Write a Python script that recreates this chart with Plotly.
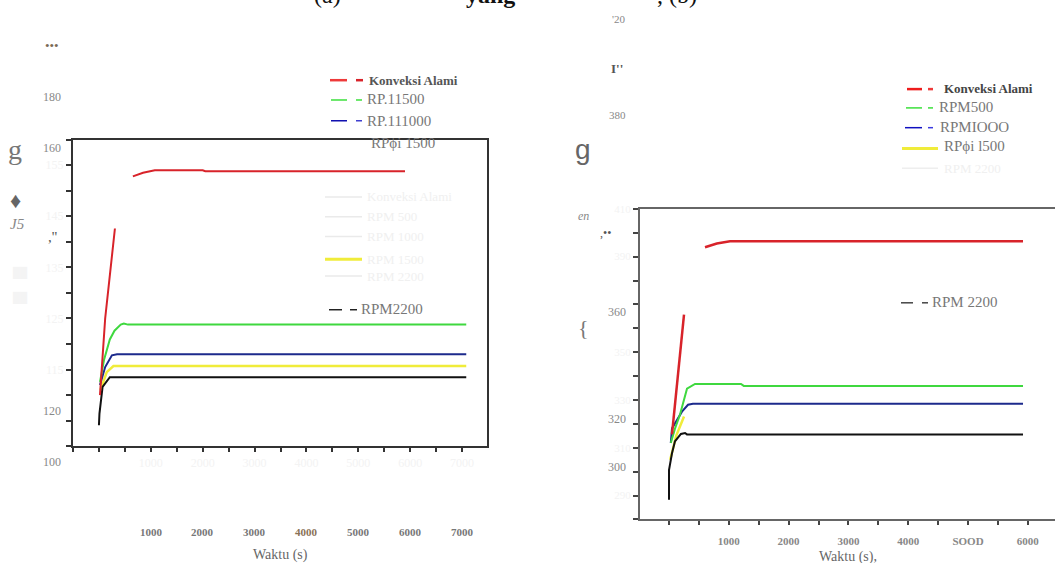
import plotly.graph_objects as go

W, H = 1055, 563


def px(x):
    return x / W


def py(y):
    return 1 - y / H


# ---------------- data (left panel) ----------------
L_red_t = [20, 120, 308, None, 654, 850, 1077, 2000, 2050, 5900]
L_red_T = [110, 125, 142.6, None, 152.8, 153.5, 154.0, 154.0, 153.8, 153.8]
L_green_t = [20, 100, 210, 300, 420, 480, 560, 7080]
L_green_T = [112.6, 117.0, 120.9, 122.6, 123.8, 124.0, 123.8, 123.8]
L_blue_t = [20, 120, 250, 350, 7080]
L_blue_T = [112.0, 115.5, 117.8, 118.0, 118.0]
L_yellow_t = [30, 150, 280, 7080]
L_yellow_T = [111.0, 114.5, 115.7, 115.7]
L_black_t = [0, 10, 70, 210, 7080]
L_black_T = [104.1, 106.4, 111.6, 113.5, 113.5]

# ---------------- data (right panel) ----------------
R_red_t = [50, 251, None, 602, 800, 1020, 5920]
R_red_T = [315.6, 365.7, None, 393.9, 395.5, 396.4, 396.4]
R_green_t = [30, 100, 184, 301, 435, 1204, 1250, 5920]
R_green_T = [312.0, 318.0, 323.9, 334.7, 336.7, 336.7, 335.9, 335.9]
R_blue_t = [30, 50, 217, 318, 400, 5920]
R_blue_T = [312.0, 318.1, 325.1, 328.0, 328.4, 328.4]
R_yellow_t = [20, 120, 251]
R_yellow_T = [305.0, 315.0, 323.1]
R_black_t = [0, 0, 50, 100, 200, 268, 300, 5920]
R_black_T = [288.3, 300.7, 307.7, 312.7, 315.8, 316.2, 315.6, 315.6]

x_ticks_L = list(range(-500, 7001, 500))
x_ticks_R = list(range(-500, 6001, 500))
y_ticks_L = list(range(100, 161, 5))
y_ticks_R = list(range(280, 411, 10))
faint_y_L = [115, 125, 135, 145, 155]
faint_y_R = [410, 390, 350, 330, 310, 290]
x_labels_dark = ["1000", "2000", "3000", "4000", "5000", "6000", "7000"]
x_labels_R = {1000: "1000", 2000: "2000", 3000: "3000", 4000: "4000", 5000: "SOOD", 6000: "6000"}

RED = "#d8232a"
GREEN = "#3fd83f"
BLUE = "#1c2a8c"
YELLOW = "#f0ec3a"
BLACK = "#111111"
FAINT = "#f3f3f3"
SERIF = "Liberation Serif"

fig = go.Figure()

for t, v, c, w in [
    (L_yellow_t, L_yellow_T, YELLOW, 2.5),
    (L_black_t, L_black_T, BLACK, 2),
    (L_blue_t, L_blue_T, BLUE, 2),
    (L_green_t, L_green_T, GREEN, 2),
    (L_red_t, L_red_T, RED, 2),
]:
    fig.add_trace(go.Scatter(x=t, y=v, mode="lines", line=dict(color=c, width=w),
                             xaxis="x", yaxis="y", showlegend=False))

for t, v, c, w in [
    (R_yellow_t, R_yellow_T, YELLOW, 2.5),
    (R_black_t, R_black_T, BLACK, 2),
    (R_blue_t, R_blue_T, BLUE, 2),
    (R_green_t, R_green_T, GREEN, 2),
    (R_red_t, R_red_T, RED, 2.5),
]:
    fig.add_trace(go.Scatter(x=t, y=v, mode="lines", line=dict(color=c, width=w),
                             xaxis="x2", yaxis="y2", showlegend=False))

# axis tick texts
xt_L = [str(v) if v > 0 and v % 1000 == 0 else "" for v in x_ticks_L]
yt_L = [str(v) if v in faint_y_L else "" for v in y_ticks_L]
xt_R = [x_labels_R.get(v, "") for v in x_ticks_R]
yt_R = [str(v) if v in faint_y_R else "" for v in y_ticks_R]

fig.update_layout(
    width=W, height=H,
    margin=dict(l=0, r=0, t=0, b=0),
    paper_bgcolor="white", plot_bgcolor="white",
    font=dict(family=SERIF, color="#777"),
    xaxis=dict(domain=[px(73), px(487)], range=[-500, 7480], showgrid=False, zeroline=False,
               showline=True, linecolor="#333", linewidth=2, mirror=True,
               ticks="outside", ticklen=4, tickcolor="#333", tickwidth=1.5,
               tickvals=x_ticks_L, ticktext=xt_L,
               tickfont=dict(family=SERIF, size=12, color=FAINT), anchor="y"),
    yaxis=dict(domain=[py(445), py(135)], range=[100, 160], showgrid=False, zeroline=False,
               showline=True, linecolor="#333", linewidth=2, mirror=True,
               ticks="outside", ticklen=5, tickcolor="#333", tickwidth=1.5,
               tickvals=y_ticks_L, ticktext=yt_L,
               tickfont=dict(family=SERIF, size=12, color=FAINT), anchor="x"),
    xaxis2=dict(domain=[px(640), 1.0], range=[-485, 6455], showgrid=False, zeroline=False,
                showline=True, linecolor="#666", linewidth=2, mirror=True,
                ticks="outside", ticklen=4, tickcolor="#444", tickwidth=1.5,
                tickvals=x_ticks_R, ticktext=xt_R, ticklabelstandoff=6,
                tickfont=dict(family=SERIF, size=11, color="#888", weight="bold"), anchor="y2"),
    yaxis2=dict(domain=[py(519), py(205)], range=[280, 410], showgrid=False, zeroline=False,
                showline=True, linecolor="#666", linewidth=2, mirror=False,
                ticks="outside", ticklen=5, tickcolor="#444", tickwidth=1.5,
                tickvals=y_ticks_R, ticktext=yt_R,
                tickfont=dict(family=SERIF, size=11, color=FAINT), anchor="x2"),
)

ann = []


def text(x, y, s, size=13, color="#777", family=SERIF, xanchor="center", **kw):
    ann.append(dict(x=px(x), y=py(y), xref="paper", yref="paper", text=s, showarrow=False,
                    xanchor=xanchor, yanchor="middle",
                    font=dict(size=size, color=color, family=family, **kw)))


shapes = []


def seg(x0, x1, y, color, width=1.5):
    shapes.append(dict(type="line", xref="paper", yref="paper", x0=px(x0), x1=px(x1),
                       y0=py(y), y1=py(y), line=dict(color=color, width=width)))


# cut-off caption at the top (only its lower edge shows)
text(327, -11, "(a)", size=24, color="#111")
text(490, -11, "yang", size=24, color="#111", weight="bold")
text(677, -11, ", (b)", size=24, color="#111")

# left panel stray labels
text(52, 40, "•••", size=13, color="#7a6a55")
text(52, 92, "180", size=12, color="#888")
text(52, 144, "160", size=12, color="#888")
text(52, 409, "120", size=12, color="#888")
text(52, 461, "100", size=12, color="#888")
text(15, 145, "g", size=28, color="#777")
text(15, 197, "♦", size=22, color="#666")
text(17, 220, "J5", size=15, color="#888", style="italic")
text(52, 233, ",''", size=15, color="#555")
for yy in (270, 295):
    text(20, yy, "██", size=10, color="#f4f4f4")

# left dark x labels
for i, s in enumerate(x_labels_dark):
    text(151 + i * 51.86, 532, s, size=11, color="#8a7256" if s == "4000" else "#777",
         weight="bold")
text(280, 555, "Waktu (s)", size=14, color="#666")

# left legend
seg(330, 347, 75, "#ee3a3a", 2.5); seg(356, 363, 75, RED, 2.5)
text(367, 75, "Konveksi Alami", size=13, color="#555", xanchor="left", weight="bold")
seg(331, 347, 95, "#3ce03c"); seg(356, 362, 95, "#3ce03c")
text(365, 94, "RP.11500", size=15, color="#777", xanchor="left")
seg(331, 347, 116, "#1010b0"); seg(356, 362, 116, "#4040d0")
text(365, 116, "RP.111000", size=15, color="#777", xanchor="left")
text(369, 138, "RPϕi 1500", size=15, color="#777", xanchor="left")
for yy, nm in [(193, "Konveksi Alami"), (213, "RPM 500"), (233, "RPM 1000"),
               (256, "RPM 1500"), (273, "RPM 2200")]:
    if nm == "RPM 1500":
        seg(325, 362, yy, YELLOW, 3)
    else:
        seg(325, 362, yy, "#eaeaea", 1.5)
    text(365, yy, nm, size=13, color="#f0f0f0", xanchor="left")
seg(329, 342, 307, "#222", 1.5); seg(350, 357, 307, "#222", 1.5)
text(359, 306, "RPM2200", size=15, color="#777", xanchor="left")

# right panel stray labels
text(618, 13, "'20", size=11, color="#888")
text(617, 63, "I''", size=13, color="#555", weight="bold")
text(617, 110, "380", size=11, color="#888")
text(583, 145, "g", size=28, color="#666", family="Liberation Sans")
text(583, 212, "en", size=12, color="#888", style="italic")
text(605, 229, ",••", size=12, color="#555")
text(617, 309, "360", size=12, color="#888")
text(583, 325, "{", size=22, color="#777")
text(617, 417, "320", size=12, color="#888")
text(617, 466, "300", size=12, color="#888")
text(848, 557, "Waktu (s),", size=14, color="#666")

# right legend
seg(907, 922, 84, "#ee1c1c", 2.5); seg(928, 933, 84, "#ee3a3a", 2.5)
text(942, 83, "Konveksi Alami", size=13, color="#444", xanchor="left", weight="bold")
seg(906, 922, 103, "#3ce03c"); seg(928, 933, 103, "#3ce03c")
text(937, 102, "RPM500", size=15, color="#777", xanchor="left")
seg(905, 922, 123, "#1010c0"); seg(928, 933, 123, "#3a3ae0")
text(938, 122, "RPMIOOO", size=15, color="#777", xanchor="left")
seg(902, 938, 144, YELLOW, 3)
text(942, 142, "RPϕi l500", size=15, color="#777", xanchor="left")
seg(902, 938, 164, "#eeeeee", 1.5)
text(942, 164, "RPM 2200", size=13, color="#f0f0f0", xanchor="left")
seg(901, 913, 300, "#444", 1.5); seg(922, 928, 300, "#444", 1.5)
text(930, 299, "RPM 2200", size=15, color="#777", xanchor="left")

fig.update_layout(annotations=ann, shapes=shapes)
fig.write_html("out.html",
               config={"displayModeBar": False},
               post_script="document.body.style.margin='0px';"
                           "document.body.style.overflow='hidden';")
